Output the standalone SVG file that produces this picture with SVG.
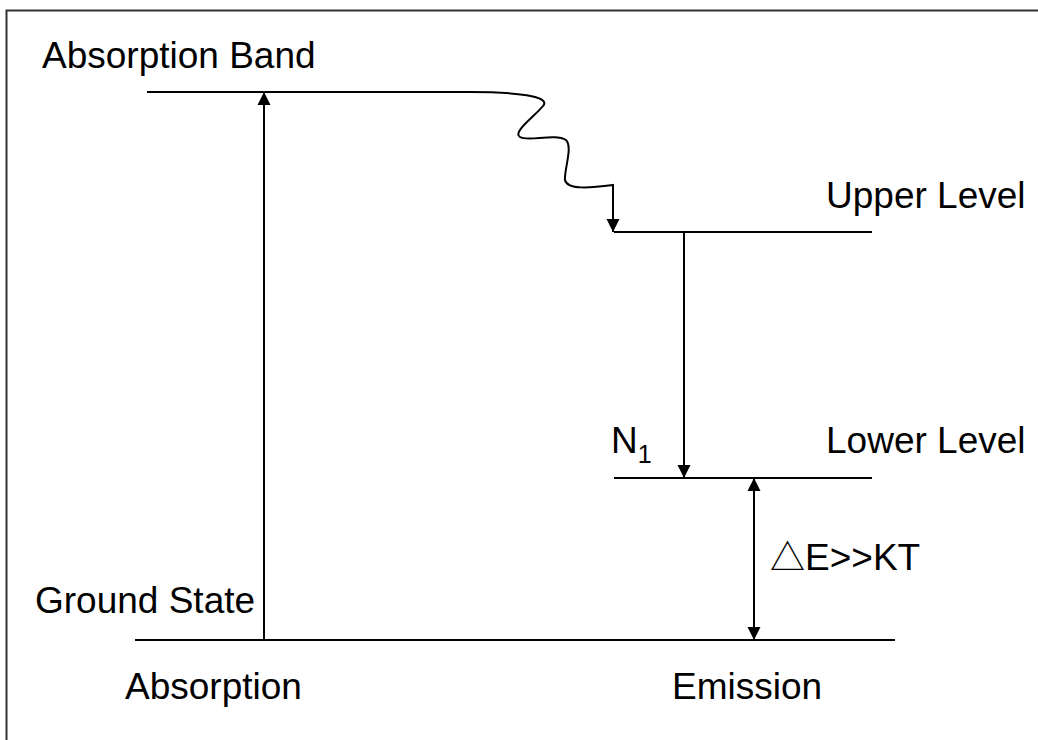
<svg xmlns="http://www.w3.org/2000/svg" width="1038" height="740" viewBox="0 0 1038 740">
  <style>
    .t { font-family: "Liberation Sans", Arial, sans-serif; font-size: 37px; fill: #000; }
    .lvl { stroke: #000; stroke-width: 2; fill: none; }
    .ar { stroke: #000; stroke-width: 2; fill: none; }
  </style>
  <defs>
    <marker id="ah" markerUnits="userSpaceOnUse" markerWidth="14" markerHeight="14" viewBox="0 0 14 14" refX="13" refY="7" orient="auto">
      <path d="M0,0.5 L13,7 L0,13.5 Z" fill="#000"/>
    </marker>
    <marker id="ahs" markerUnits="userSpaceOnUse" markerWidth="14" markerHeight="14" viewBox="0 0 14 14" refX="1" refY="7" orient="auto">
      <path d="M14,0.5 L1,7 L14,13.5 Z" fill="#000"/>
    </marker>
  </defs>
  <rect width="1038" height="740" fill="#fff"/>
  <path d="M6.5,745 V10.5 H1045" stroke="#333" stroke-width="2" fill="none"/>

  <g id="absorption-band">
    <text class="t" x="42" y="68">Absorption Band</text>
  </g>
  <g id="upper-level">
    <line class="lvl" x1="614" y1="232" x2="872" y2="232"/>
    <text class="t" x="826" y="208">Upper Level</text>
  </g>
  <g id="lower-level">
    <line class="lvl" x1="614" y1="478" x2="872" y2="478"/>
    <text class="t" x="826" y="453">Lower Level</text>
  </g>
  <g id="n1">
    <text class="t" x="611" y="453">N<tspan font-size="25" dy="10">1</tspan></text>
  </g>
  <g id="ground-state">
    <line class="lvl" x1="135" y1="640" x2="895" y2="640"/>
    <text class="t" x="35" y="613">Ground State</text>
  </g>
  <g id="delta-e">
    <text class="t" x="770" y="570"><tspan font-family="'Noto Sans CJK SC', 'DejaVu Sans', sans-serif" font-size="35">△</tspan><tspan font-family="'Liberation Sans', Arial, sans-serif">E&gt;&gt;KT</tspan></text>
  </g>
  <g id="absorption-label">
    <text class="t" x="125" y="699">Absorption</text>
  </g>
  <g id="emission-label">
    <text class="t" x="672" y="699">Emission</text>
  </g>

  <g id="connectors">
    <path class="lvl" d="M147,92 L470,92 C515,92 552,96 543,106 C535,116 512,132 520,137 C528,142 555,133 566,140 C573,147 564,170 565,180 C567,190 590,188 613,185 L613,232" marker-end="url(#ah)"/>
    <line class="ar" x1="264" y1="640" x2="264" y2="92" marker-end="url(#ah)"/>
    <line class="ar" x1="684" y1="232" x2="684" y2="478" marker-end="url(#ah)"/>
    <line class="ar" x1="754" y1="478" x2="754" y2="640" marker-start="url(#ahs)" marker-end="url(#ah)"/>
  </g>
</svg>
